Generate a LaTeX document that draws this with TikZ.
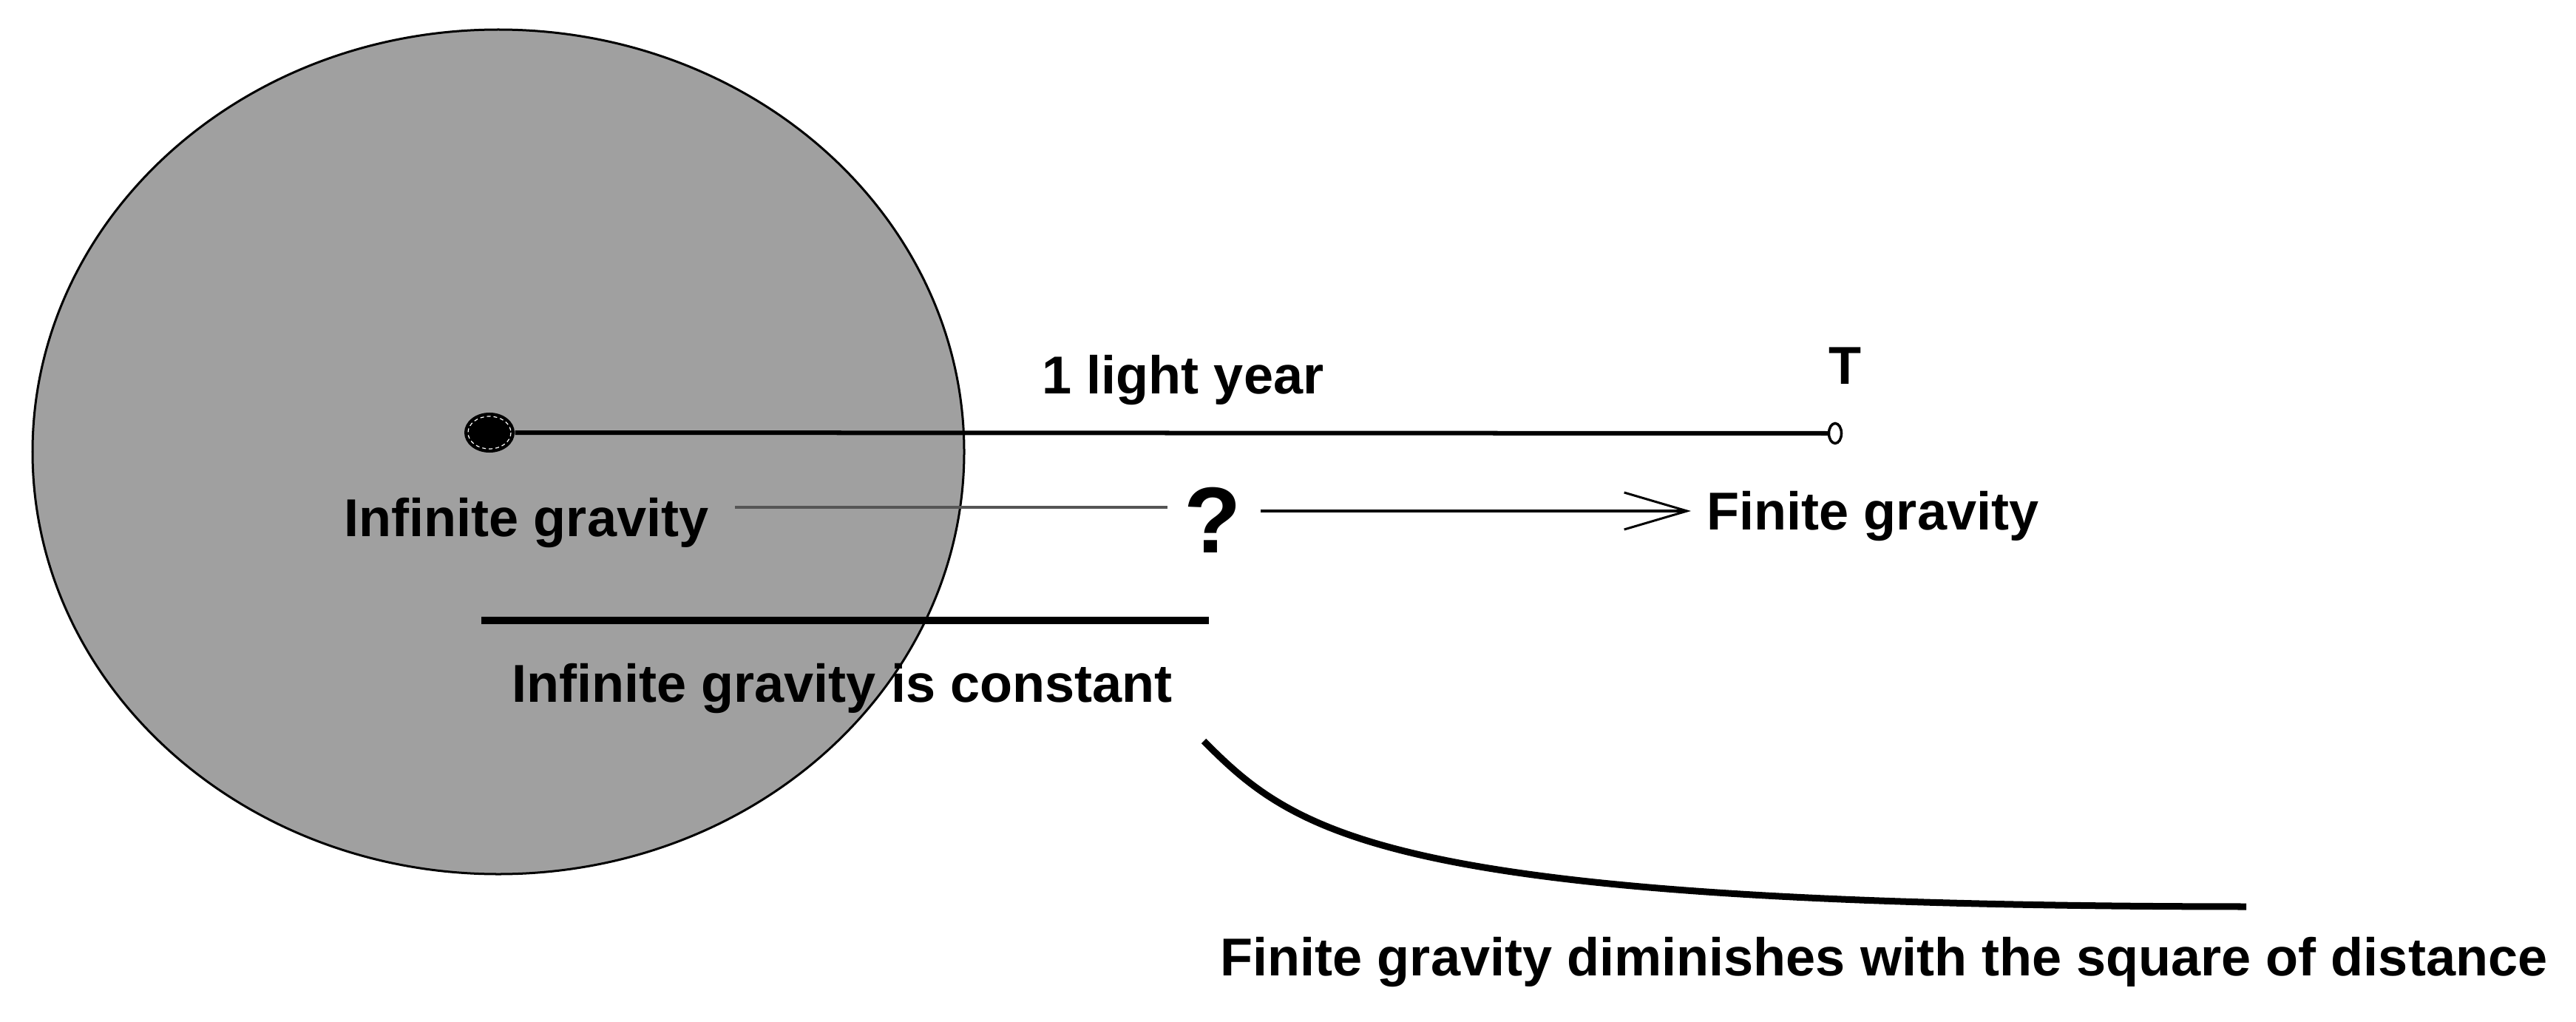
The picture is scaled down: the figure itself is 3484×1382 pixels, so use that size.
\documentclass[tikz,border=0pt]{standalone}
\usepackage{fontspec}
\setmainfont{Liberation Sans}
\usetikzlibrary{shapes.geometric,arrows.meta}
\definecolor{discgray}{RGB}{160,160,160}
\definecolor{thingray}{RGB}{85,85,85}
\tikzset{
  lbl/.style={font=\bfseries\fontsize{20.5}{24}\selectfont, inner sep=0pt, anchor=base},
  qlbl/.style={font=\bfseries\fontsize{36}{40}\selectfont, inner sep=0pt, anchor=base},
  disc/.style={fill=discgray, draw=black, line width=0.03cm},
  coredot/.style={ellipse, fill=black, inner sep=0pt, minimum width=0.68cm, minimum height=0.54cm},
  enddot/.style={ellipse, draw=black, fill=white, line width=0.035cm, inner sep=0pt, minimum width=0.17cm, minimum height=0.27cm},
  radius line/.style={line width=0.06cm},
  thinlink/.style={line width=0.04cm, draw=thingray},
  arrowlink/.style={line width=0.045cm, -{Straight Barb[length=0.85cm, width=0.5cm, line width=0.03cm]}},
  heavy/.style={line width=0.1cm},
  decay/.style={line width=0.09cm}
}
\begin{document}
\begin{tikzpicture}[x=0.01cm, y=-0.01cm]
  \useasboundingbox (0,0) rectangle (3484,1382);
  % big grey disc
  \path[disc] (674,611) ellipse (630 and 571);
  % centre dot and T end point
  \node[coredot] (dot) at (662,585) {};
  \draw[white, line width=0.012cm, dash pattern=on 0.05cm off 0.04cm] (662,585) ellipse (29 and 22);
  \node[enddot] (tc) at (2482,586) {};
  \draw[radius line] (dot.east) -- (tc.west);
  % labels
  \node[lbl] (ly) at (1600,532) {1 light year};
  \node[lbl] (tlbl) at (2495,519) {T};
  \node[lbl] (ig) at (712,725) {Infinite gravity};
  \node[qlbl] (q) at (1640,747) {?};
  \node[lbl] (fg) at (2533,716) {Finite gravity};
  \node[lbl] (igc) at (1139,949) {Infinite gravity is constant};
  \node[lbl] (fgd) at (2548,1319) {Finite gravity diminishes with the square of distance};
  % connectors
  \coordinate (l1a) at (994,686);
  \coordinate (l1b) at (1579,686);
  \draw[thinlink] (l1a) -- (l1b);
  \coordinate (l2a) at (1705,691);
  \coordinate (l2b) at (2287,691);
  \draw[arrowlink] (l2a) -- (l2b);
  % constant line
  \coordinate (h1) at (651,839);
  \coordinate (h2) at (1635,839);
  \draw[heavy] (h1) -- (h2);
  % decay curve
  \coordinate (c0) at (1628,1002);
  \coordinate (c3) at (3038,1226);
  \draw[decay] (c0) .. controls (1755,1130) and (1880,1225) .. (c3);
\end{tikzpicture}
\end{document}
